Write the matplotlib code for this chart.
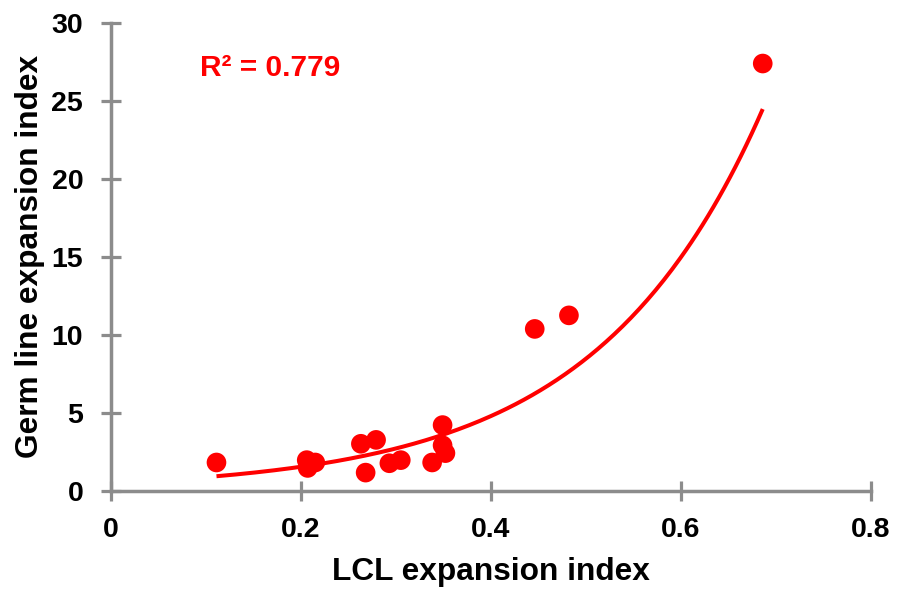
import numpy as np
import matplotlib
matplotlib.use("Agg")
import matplotlib.pyplot as plt

plt.rcParams['font.family'] = ['Liberation Sans', 'DejaVu Sans']

# LCL vs germ line expansion indices
lcl_index = [0.111, 0.206, 0.207, 0.215, 0.263, 0.279, 0.268, 0.293, 0.305,
             0.338, 0.349, 0.349, 0.352, 0.446, 0.482, 0.686]
germ_index = [1.8, 1.95, 1.45, 1.8, 3.0, 3.25, 1.15, 1.75, 1.95,
              1.8, 4.2, 2.9, 2.4, 10.37, 11.24, 27.4]

x_ticks = [0, 0.2, 0.4, 0.6, 0.8]
x_tick_labels = ["0", "0.2", "0.4", "0.6", "0.8"]
y_ticks = [0, 5, 10, 15, 20, 25, 30]

red = "#ff0000"
grey = "#8c8c8c"

fig = plt.figure(figsize=(8.99, 5.93), dpi=100)
ax = fig.add_axes([0.1235, 0.1728, 0.8454, 0.7884])

x = np.array(lcl_index)
y = np.array(germ_index)

# exponential trendline fitted on log scale
b, ln_a = np.polyfit(x, np.log(y), 1)
xs = np.linspace(x.min(), x.max(), 200)
ax.plot(xs, np.exp(ln_a) * np.exp(b * xs), color=red, lw=2.9, zorder=2,
        solid_capstyle='butt')

ax.scatter(x, y, s=200, color=red, edgecolors='none', zorder=3)

ax.text(0.094, 27.1, "R² = 0.779", color=red, fontsize=21.5, fontweight='bold',
        ha='left', va='center')

ax.set_xlim(0, 0.8)
ax.set_ylim(0, 30)
ax.set_xticks(x_ticks)
ax.set_xticklabels(x_tick_labels)
ax.set_yticks(y_ticks)

for side in ('top', 'right'):
    ax.spines[side].set_visible(False)
for side in ('left', 'bottom'):
    ax.spines[side].set_color(grey)
    ax.spines[side].set_linewidth(2.5)

ax.tick_params(axis='both', direction='inout', length=14, width=2.3,
               color=grey, labelsize=20.5, labelcolor='black')
ax.tick_params(axis='x', pad=12)
ax.tick_params(axis='y', pad=13)
for lbl in ax.get_xticklabels() + ax.get_yticklabels():
    lbl.set_fontweight('bold')

ax.set_xlabel("LCL expansion index", fontsize=22.8, fontweight='bold', labelpad=10)
ax.set_ylabel("Germ line expansion index", fontsize=22.8, fontweight='bold', labelpad=5)

fig.savefig("out.png", dpi=100)
